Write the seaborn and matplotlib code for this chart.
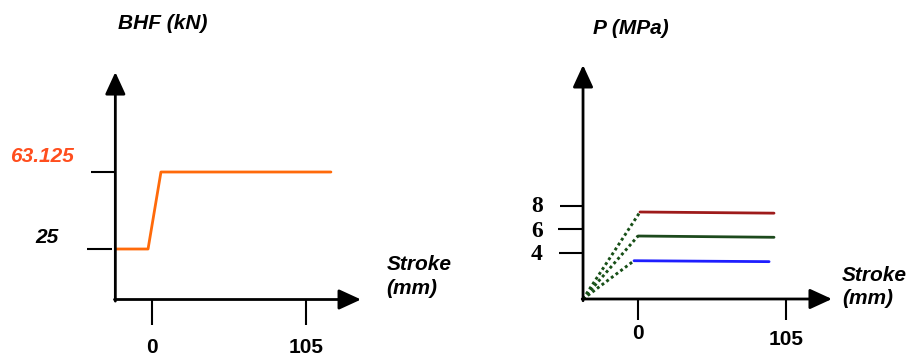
import matplotlib
matplotlib.use("Agg")
import matplotlib.pyplot as plt
import seaborn as sns
import pandas as pd

# Blank-holder force profile (kN) against punch stroke (mm)
bhf_stroke = [-25, -2.7, 6.1, 122]
bhf_force = [25, 25, 63.125, 63.125]
bhf_ticks = [25, 63.125]
bhf_tick_labels = ["25", "63.125"]
bhf_tick_colors = ["black", "#FF4E1E"]

# Fluid pressure profiles (MPa): linear ramp from rest, then a held level
p_levels = ["high", "mid", "low"]
p_start_stroke = [1.4, 0.0, -2.8]
p_end_stroke = [96.5, 96.5, 93.0]
p_start_value = [7.5, 5.43, 3.3]
p_end_value = [7.4, 5.32, 3.22]
p_colors = ["#9E1B1B", "#1D4A1D", "#1E1EFF"]
p_ticks = [8, 6, 4]
p_ramp_origin = (-39, 0)

stroke_ticks = [0, 105]
stroke_tick_labels = ["0", "105"]

sns.set_theme(style="white")
plt.rcParams["font.family"] = ["Liberation Sans", "DejaVu Sans"]
plt.rcParams["text.color"] = "black"

fig = plt.figure(figsize=(9.11, 3.61), dpi=100)
ax1 = fig.add_axes([0, 0, 0.5, 1])
ax2 = fig.add_axes([0.5, 0, 0.5, 1])
for ax in (ax1, ax2):
    ax.axis("off")

ax1.set_xlim(-103.64, 206.93)
ax1.set_ylim(-30.45, 148.29)
ax2.set_xlim(-129.48, 193.69)
ax2.set_ylim(-5.345, 25.776)

AX_LW = 2.0
TICK_LW = 1.5
lab_font = dict(fontsize=15, fontweight="bold", fontstyle="italic",
                color="black")


def arrow_axis(ax, start, tip):
    ax.annotate("", xy=tip, xytext=start, annotation_clip=False,
                arrowprops=dict(arrowstyle="-|>,head_length=1.35,head_width=0.62",
                                lw=AX_LW, color="black", shrinkA=0, shrinkB=0,
                                mutation_scale=10))


# ---------------- left panel: BHF ----------------
x0, y0 = bhf_stroke[0], 0
arrow_axis(ax1, (x0, y0 - 0.8), (x0, 112.6))
arrow_axis(ax1, (x0 - 0.6, y0), (142.5, y0))

bhf = pd.DataFrame({"stroke": bhf_stroke, "force": bhf_force})
sns.lineplot(data=bhf, x="stroke", y="force", ax=ax1, color="#FF6A0A",
             lw=2.0, sort=False, estimator=None, legend=False)

for val, xl in zip(bhf_ticks, [-44.0, -41.6]):
    ax1.plot([xl, x0 - (2.0 if val == 25 else 0)], [val, val],
             color="black", lw=TICK_LW, solid_capstyle="butt")
for val, lab, col, xc, dy in zip(bhf_ticks, bhf_tick_labels, bhf_tick_colors,
                                 [-71.9, -74.7], [8, 11]):
    ax1.annotate(lab, xy=(xc, val), xytext=(0, dy), textcoords="offset points",
                 ha="center", va="center",
                 **{**lab_font, "color": col})

for s, lab in zip(stroke_ticks, stroke_tick_labels):
    ax1.plot([s, s], [0, -12.6], color="black", lw=TICK_LW, solid_capstyle="butt")
    ax1.annotate(lab, xy=(s, -12.6), xytext=(0, -16), textcoords="offset points",
                 ha="center", va="center", fontsize=15, fontweight="bold",
                 color="black")

ax1.text(7.5, 136.5, "BHF (kN)", ha="center", va="center", **lab_font)
ax1.text(160, 11.5, "Stroke\n(mm)", ha="left", va="center",
         linespacing=1.3, **lab_font)

# ---------------- right panel: pressure ----------------
ox, oy = p_ramp_origin
arrow_axis(ax2, (ox, oy - 0.15), (ox, 20.17))
arrow_axis(ax2, (ox - 0.6, oy), (137.6, oy))

ramps = pd.DataFrame({
    "level": [lv for lv in p_levels for _ in range(2)],
    "stroke": [v for s in p_start_stroke for v in (ox, s)],
    "pressure": [v for p in p_start_value for v in (oy, p)],
})
sns.lineplot(data=ramps, x="stroke", y="pressure", units="level",
             estimator=None, ax=ax2, color="#174F17", lw=2.1,
             linestyle=(0, (1, 1.0)), legend=False)

holds = pd.DataFrame({
    "level": [lv for lv in p_levels for _ in range(2)],
    "stroke": [v for a, b in zip(p_start_stroke, p_end_stroke) for v in (a, b)],
    "pressure": [v for a, b in zip(p_start_value, p_end_value) for v in (a, b)],
})
sns.lineplot(data=holds, x="stroke", y="pressure", hue="level",
             hue_order=p_levels, palette=p_colors, estimator=None,
             ax=ax2, lw=2.0, legend=False)

for val, xl in zip(p_ticks, [-55.3, -56.8, -56.0]):
    ax2.plot([xl, ox], [val, val], color="black", lw=TICK_LW,
             solid_capstyle="butt")
    ax2.text(-71.7, val - (0 if val == 8 else 0.15), str(val), ha="center",
             va="center", fontsize=17, fontweight="bold", color="black",
             family=["Liberation Serif", "DejaVu Serif"])

for s, lab in zip(stroke_ticks, stroke_tick_labels):
    ax2.plot([s, s], [0, -1.81], color="black", lw=TICK_LW, solid_capstyle="butt")
    ax2.annotate(lab, xy=(s, -1.81), xytext=(0, -10 if s == 0 else -14),
                 textcoords="offset points", ha="center", va="center",
                 fontsize=15, fontweight="bold", color="black")

ax2.text(-5, 23.3, "P (MPa)", ha="center", va="center", **lab_font)
ax2.text(144.7, 1.05, "Stroke\n(mm)", ha="left", va="center",
         linespacing=1.3, **lab_font)

fig.savefig("out.png", dpi=100)
